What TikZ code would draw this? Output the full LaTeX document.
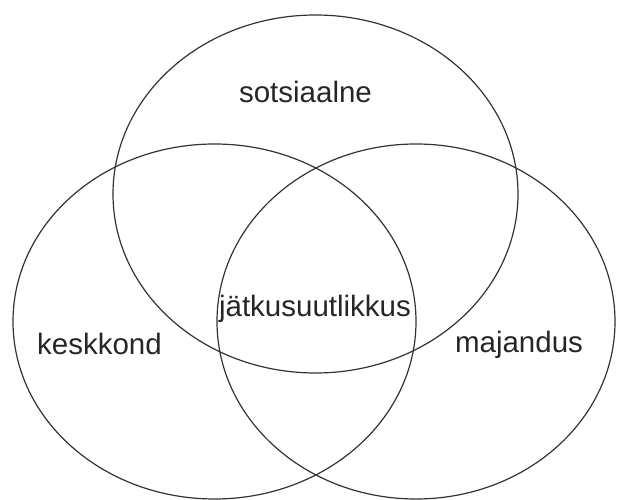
\documentclass[tikz,border=0pt]{standalone}
\usepackage{fontspec}
\setmainfont{Liberation Sans}
\usetikzlibrary{shapes.geometric}
\begin{document}
\begin{tikzpicture}[x=1pt,y=1pt,
  setring/.style={ellipse, draw=black!80, line width=1.2pt, inner sep=0pt,
    minimum width=#1},
  setlabel/.style={anchor=base, inner sep=0pt, text=black!85,
    font=\fontsize{29.5}{35}\selectfont}]
  \useasboundingbox (0,0) rectangle (618,500);
  % three overlapping sets
  \node[setring=405pt, minimum height=358pt] (sots) at (315.5,306) {};
  \node[setring=403pt, minimum height=355pt] (kesk) at (214.5,178.5) {};
  \node[setring=398pt, minimum height=355pt] (maj)  at (416,178.5) {};
  % labels
  \node[setlabel] (lsots) at (305.5,397) {sotsiaalne};
  \node[setlabel] (lkesk) at (99.5,145) {keskkond};
  \node[setlabel] (lmaj)  at (519,147) {majandus};
  \node[setlabel] (ljat)  at (315,183) {jätkusuutlikkus};
\end{tikzpicture}
\end{document}
